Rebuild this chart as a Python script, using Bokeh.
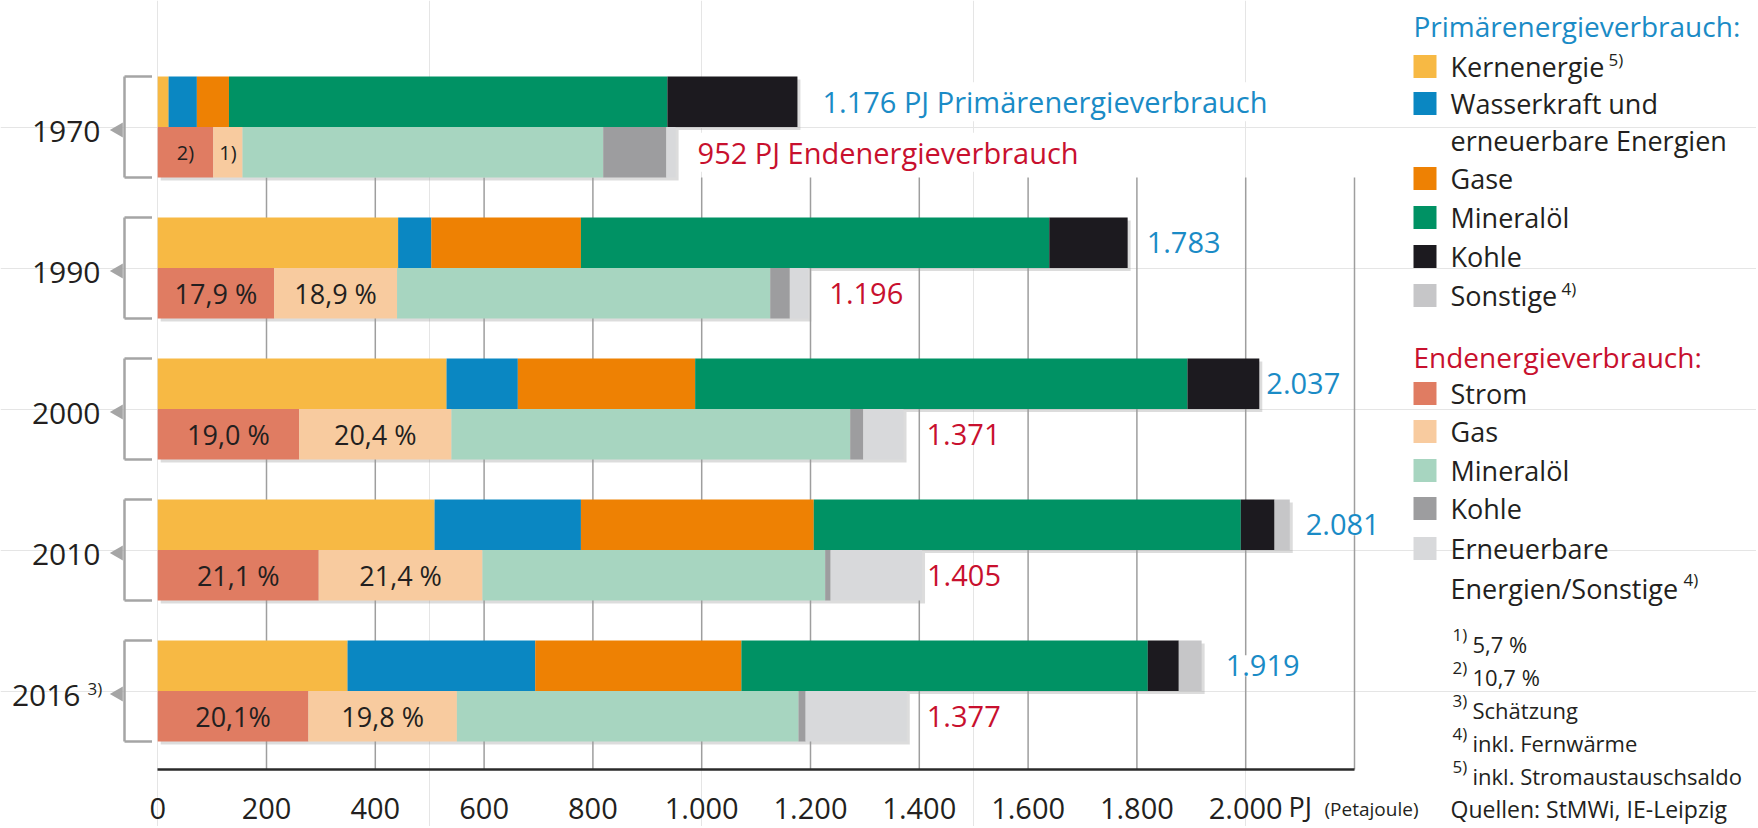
import numpy as np
from bokeh.plotting import figure
from bokeh.models import Range1d, LinearAxis, FixedTicker, ColumnDataSource, LabelSet
from bokeh.core.properties import value
from bokeh.embed import file_html
from bokeh.resources import INLINE

# ---------------- data ----------------
years = ["1970", "1990", "2000", "2010", "2016"]
year_sup = ["", "", "", "", "3)"]

# Primärenergieverbrauch (PJ)
prim_kern = [20, 442, 531, 509, 349]
prim_wasser = [52, 61, 131, 269, 345]
prim_gase = [59, 275, 326, 428, 379]
prim_mineraloel = [806, 861, 905, 785, 747]
prim_kohle = [239, 144, 132, 62, 57]
prim_sonstige = [0, 0, 0, 28, 42]
prim_total_labels = ["1.176 PJ Primärenergieverbrauch", "1.783", "2.037", "2.081", "1.919"]

# Endenergieverbrauch (PJ)
end_strom = [102, 214, 260, 296, 277]
end_gas = [54, 226, 280, 301, 273]
end_mineraloel = [663, 686, 733, 630, 628]
end_kohle = [116, 36, 24, 10, 13]
end_ern = [17, 34, 74, 168, 186]
end_total_labels = ["952 PJ Endenergieverbrauch", "1.196", "1.371", "1.405", "1.377"]

strom_pct_labels = ["2)", "17,9 %", "19,0 %", "21,1 %", "20,1%"]
gas_pct_labels = ["1)", "18,9 %", "20,4 %", "21,4 %", "19,8 %"]

tick_values = [0, 200, 400, 600, 800, 1000, 1200, 1400, 1600, 1800, 2000]
tick_labels = ["0", "200", "400", "600", "800", "1.000", "1.200", "1.400", "1.600", "1.800", "2.000"]
grid_values = [200, 400, 600, 800, 1000, 1200, 1400, 1600, 1800, 2000, 2200]

prim_legend = ["Kernenergie", "Wasserkraft und\nerneuerbare Energien", "Gase", "Mineralöl", "Kohle", "Sonstige"]
prim_legend_sup = ["5)", "", "", "", "", "4)"]
end_legend = ["Strom", "Gas", "Mineralöl", "Kohle", "Erneuerbare\nEnergien/Sonstige"]
end_legend_sup = ["", "", "", "", "4)"]
footnote_marks = ["1)", "2)", "3)", "4)", "5)"]
footnote_texts = ["5,7 %", "10,7 %", "Schätzung", "inkl. Fernwärme", "inkl. Stromaustauschsaldo"]
source_text = "Quellen: StMWi, IE-Leipzig"

# ---------------- style ----------------
prim_colors = ["#F7B944", "#0A87C2", "#EE8103", "#009264", "#1C1A1F", "#C6C6C8"]
end_colors = ["#E07C62", "#F8CB9F", "#A7D5C0", "#9D9D9F", "#D8D9DB"]
BLUE = "#1A8BC6"
RED = "#C8102E"
INK = "#231F20"
GREY = "#A5A5A5"
FONT = value("Open Sans")

W, H = 1756, 826
X0_PX, PX_PER_PJ = 157.2, 0.544
Y0_PX, PX_PER_ROW = 126.5, 141.0


def px_x(fx):
    return (fx - X0_PX) / PX_PER_PJ


def px_y(fy):
    return (fy - Y0_PX) / PX_PER_ROW


p = figure(width=W, height=H, output_backend="svg", toolbar_location=None,
           x_range=Range1d(px_x(0), px_x(W)), y_range=Range1d(px_y(H), px_y(0)),
           x_axis_location=None, y_axis_location=None, min_border=0)
p.outline_line_color = None
p.background_fill_color = "white"
p.border_fill_color = "white"

n = len(years)
rows = np.arange(n, dtype=float)
bh = 50.5 / PX_PER_ROW
prim_y = rows - bh / 2
end_y = rows + bh / 2
axis_y = px_y(769)

prim_series = [prim_kern, prim_wasser, prim_gase, prim_mineraloel, prim_kohle, prim_sonstige]
end_series = [end_strom, end_gas, end_mineraloel, end_kohle, end_ern]
prim_tot = np.sum(prim_series, axis=0)
end_tot = np.sum(end_series, axis=0)

# gridlines
p.segment(x0=grid_values, x1=grid_values, y0=[bh] * len(grid_values), y1=[axis_y] * len(grid_values),
          line_color="#9E9E9E", line_width=1.5)

# shadows
sdx, sdy = 3 / PX_PER_PJ, 3 / PX_PER_ROW
p.hbar(y=prim_y + sdy, left=sdx, right=prim_tot + sdx, height=bh, fill_color="#9a9a9a",
       fill_alpha=0.35, line_color=None)
p.hbar(y=end_y + sdy, left=sdx, right=end_tot + sdx, height=bh, fill_color="#9a9a9a",
       fill_alpha=0.35, line_color=None)


def stack(series, colors, ys):
    left = np.zeros(n)
    for vals, col in zip(series, colors):
        right = left + np.array(vals, dtype=float)
        src = ColumnDataSource(dict(y=ys, left=left.copy(), right=right))
        p.hbar(y="y", left="left", right="right", height=bh, source=src,
               fill_color=col, line_color=None)
        left = right


stack(prim_series, prim_colors, prim_y)
stack(end_series, end_colors, end_y)

# percent labels inside Strom / Gas segments
strom_mid = np.array(end_strom) / 2
gas_mid = np.array(end_strom) + np.array(end_gas) / 2
pct_sizes = ["20px"] + ["27px"] * (n - 1)
p.text(x=strom_mid, y=end_y, text=strom_pct_labels, text_align="center", text_baseline="middle",
       text_font=FONT, text_font_size=pct_sizes, text_color=INK)
p.text(x=gas_mid, y=end_y, text=gas_pct_labels, text_align="center", text_baseline="middle",
       text_font=FONT, text_font_size=pct_sizes, text_color=INK)

# total labels
prim_gap_px = [25, 19, 7, 16, 24]
end_gap_px = [22, 21, 23, 5, 20]
prim_lab = ColumnDataSource(dict(x=prim_tot + np.array(prim_gap_px) / PX_PER_PJ, y=prim_y,
                                 text=prim_total_labels))
end_lab = ColumnDataSource(dict(x=end_tot + np.array(end_gap_px) / PX_PER_PJ, y=end_y,
                                text=end_total_labels))
for src, col in ((prim_lab, BLUE), (end_lab, RED)):
    p.add_layout(LabelSet(x="x", y="y", text="text", source=src, text_align="left",
                          text_baseline="middle", text_font=FONT, text_font_size="29px",
                          text_color=col, background_fill_color="white"))

# year labels, brackets, markers
year_right_px = [100, 100, 100, 100, 80]
p.text(x=[px_x(v) for v in year_right_px], y=rows + 4 / PX_PER_ROW, text=years,
       text_align="right", text_baseline="middle", text_font=FONT, text_font_size="30px",
       text_color=INK)
p.text(x=[px_x(87)] * n, y=rows - 3 / PX_PER_ROW, text=year_sup, text_align="left",
       text_baseline="middle", text_font=FONT, text_font_size="17px", text_color=INK)
bx, bt = px_x(124), px_x(151.5)
p.segment(x0=[bx] * n, x1=[bx] * n, y0=rows - bh, y1=rows + bh, line_color=GREY, line_width=2.5)
p.segment(x0=[bx] * n, x1=[bt] * n, y0=rows - bh, y1=rows - bh, line_color=GREY, line_width=2.5)
p.segment(x0=[bx] * n, x1=[bt] * n, y0=rows + bh, y1=rows + bh, line_color=GREY, line_width=2.5)
p.scatter(x=[px_x(118)] * n, y=rows + 3 / PX_PER_ROW, marker="triangle", angle=np.pi / 2,
          size=15, fill_color=GREY, line_color=None)

# x axis
xaxis = LinearAxis(fixed_location=axis_y, bounds=(0, 2200), ticker=FixedTicker(ticks=tick_values),
                   major_label_overrides={v: t for v, t in zip(tick_values, tick_labels)})
xaxis.axis_line_color = "#2A2A2A"
xaxis.axis_line_width = 2.5
xaxis.major_tick_line_color = None
xaxis.minor_tick_line_color = None
xaxis.major_label_standoff = 22
xaxis.major_label_text_font = "Open Sans"
xaxis.major_label_text_font_size = "29px"
xaxis.major_label_text_color = INK
p.add_layout(xaxis, "below")

p.text(x=[px_x(1288)], y=[px_y(806)], text=["PJ"], text_align="left", text_baseline="middle",
       text_font=FONT, text_font_size="27px", text_color=INK)
p.text(x=[px_x(1324)], y=[px_y(808)], text=["(Petajoule)"], text_align="left",
       text_baseline="middle", text_font=FONT, text_font_size="19px", text_color=INK)

# ---------------- legend ----------------
SQ_X, TXT_X, HEAD_X = 1424.5, 1450, 1413
LEG_FS = "27px"


def legend_block(names, sups, colors, row_px, sup_px):
    ys, lines, sq_y = [], [], []
    k = 0
    for name in names:
        parts = name.split("\n")
        sq_y.append(row_px[k])
        for part in parts:
            lines.append(part)
            ys.append(px_y(row_px[k]))
            k += 1
    p.rect(x=[px_x(SQ_X)] * len(sq_y), y=[px_y(v) for v in sq_y], width=23, height=23,
           width_units="screen", height_units="screen", fill_color=colors, line_color=None)
    p.text(x=[px_x(TXT_X)] * len(lines), y=ys, text=lines, text_align="left",
           text_baseline="middle", text_font=FONT, text_font_size=LEG_FS, text_color=INK)
    sx, sy, st = [], [], []
    for s, pos in zip(sups, sup_px):
        if s and pos is not None:
            sx.append(px_x(pos[0]))
            sy.append(px_y(pos[1]))
            st.append(s)
    p.text(x=sx, y=sy, text=st, text_align="left", text_baseline="middle", text_font=FONT,
           text_font_size="17px", text_color=INK)


p.text(x=[px_x(HEAD_X)], y=[px_y(25)], text=["Primärenergieverbrauch:"], text_align="left",
       text_baseline="middle", text_font=FONT, text_font_size="28px", text_color=BLUE)
legend_block(prim_legend, prim_legend_sup, prim_colors,
             [66, 103, 140, 178, 217, 256, 295],
             [(1608, 59), None, None, None, None, (1561, 288)])
p.text(x=[px_x(HEAD_X)], y=[px_y(356)], text=["Endenergieverbrauch:"], text_align="left",
       text_baseline="middle", text_font=FONT, text_font_size="28px", text_color=RED)
legend_block(end_legend, end_legend_sup, end_colors,
             [393, 431, 470, 508, 548, 588],
             [None, None, None, None, (1683, 579)])

fn_rows = [643, 676, 709, 742, 775]
p.text(x=[px_x(1452)] * len(fn_rows), y=[px_y(v - 9) for v in fn_rows], text=footnote_marks,
       text_align="left", text_baseline="middle", text_font=FONT, text_font_size="17px",
       text_color=INK)
p.text(x=[px_x(1472)] * len(fn_rows), y=[px_y(v) for v in fn_rows], text=footnote_texts,
       text_align="left", text_baseline="middle", text_font=FONT, text_font_size="22px",
       text_color=INK)
p.text(x=[px_x(1450)], y=[px_y(808)], text=[source_text], text_align="left",
       text_baseline="middle", text_font=FONT, text_font_size="23px", text_color=INK)

open("out.html", "w").write(file_html(p, INLINE))
